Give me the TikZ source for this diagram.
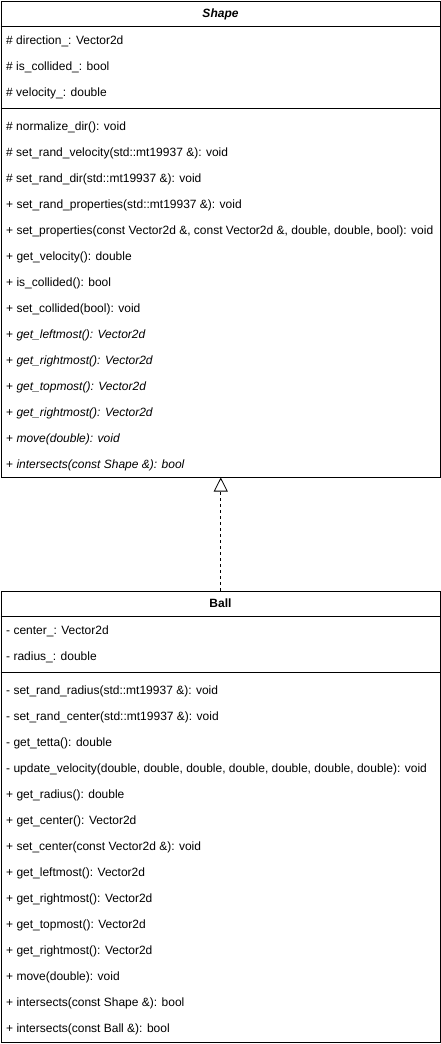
\documentclass[tikz,border=0pt]{standalone}
\usepackage{fontspec}
\setmainfont{Liberation Sans}
\usetikzlibrary{arrows.meta}
\newcommand\umem[3]{\node[member] (#1) at (6,#2) {#3};}
\newcommand\imem[3]{\node[member] (#1) at (6,#2) {+ \textit{#3}};}
\begin{document}
\begin{tikzpicture}[x=1pt,y=-1pt,
  classbox/.style={draw, line width=1pt, inner sep=0pt, anchor=north west, minimum width=439.5pt},
  sepline/.style={line width=1pt},
  member/.style={anchor=base west, inner sep=0pt, font=\fontsize{12}{14}\selectfont},
  title/.style={anchor=base, inner sep=0pt, font=\fontsize{12}{14}\selectfont\bfseries},
  realize/.style={line width=0.8pt, dash pattern=on 3pt off 3pt, -{Triangle[open, length=14pt, width=14pt, line width=0.8pt]}}]
\useasboundingbox (0,0) rectangle (441,1044);
% Shape class
\node[classbox, minimum height=476pt] (shape) at (0.5,0.5) {};
\draw[sepline] (0.5,26) -- (440,26);
\draw[sepline] (0.5,108) -- (440,108);
\node[title] (shapetitle) at (220.5,17.5) {\textit{Shape}};
\umem{s1}{44}{\# direction\_: Vector2d}
\umem{s2}{70}{\# is\_collided\_: bool}
\umem{s3}{96}{\# velocity\_: double}
\umem{m1}{130}{\# normalize\_dir(): void}
\umem{m2}{156}{\# set\_rand\_velocity(std::mt19937 \&): void}
\umem{m3}{182}{\# set\_rand\_dir(std::mt19937 \&): void}
\umem{m4}{208}{+ set\_rand\_properties(std::mt19937 \&): void}
\umem{m5}{234}{+ set\_properties(const Vector2d \&, const Vector2d \&, double, double, bool): void}
\umem{m6}{260}{+ get\_velocity(): double}
\umem{m7}{286}{+ is\_collided(): bool}
\umem{m8}{312}{+ set\_collided(bool): void}
\imem{m9}{338}{get\_leftmost(): Vector2d}
\imem{m10}{364}{get\_rightmost(): Vector2d}
\imem{m11}{390}{get\_topmost(): Vector2d}
\imem{m12}{416}{get\_rightmost(): Vector2d}
\imem{m13}{442}{move(double): void}
\imem{m14}{468}{intersects(const Shape \&): bool}
% Ball class
\node[classbox, minimum height=451pt] (ball) at (0.5,590.5) {};
\draw[sepline] (0.5,616) -- (440,616);
\draw[sepline] (0.5,672) -- (440,672);
\node[title] (balltitle) at (220.5,607) {Ball};
\umem{b1}{634}{- center\_: Vector2d}
\umem{b2}{660}{- radius\_: double}
\umem{n1}{694}{- set\_rand\_radius(std::mt19937 \&): void}
\umem{n2}{720}{- set\_rand\_center(std::mt19937 \&): void}
\umem{n3}{746}{- get\_tetta(): double}
\umem{n4}{772}{- update\_velocity(double, double, double, double, double, double, double): void}
\umem{n5}{798}{+ get\_radius(): double}
\umem{n6}{824}{+ get\_center(): Vector2d}
\umem{n7}{850}{+ set\_center(const Vector2d \&): void}
\umem{n8}{876}{+ get\_leftmost(): Vector2d}
\umem{n9}{902}{+ get\_rightmost(): Vector2d}
\umem{n10}{928}{+ get\_topmost(): Vector2d}
\umem{n11}{954}{+ get\_rightmost(): Vector2d}
\umem{n12}{980}{+ move(double): void}
\umem{n13}{1006}{+ intersects(const Shape \&): bool}
\umem{n14}{1032}{+ intersects(const Ball \&): bool}
% realization
\draw[realize] (ball.north) -- (shape.south);
\end{tikzpicture}
\end{document}
